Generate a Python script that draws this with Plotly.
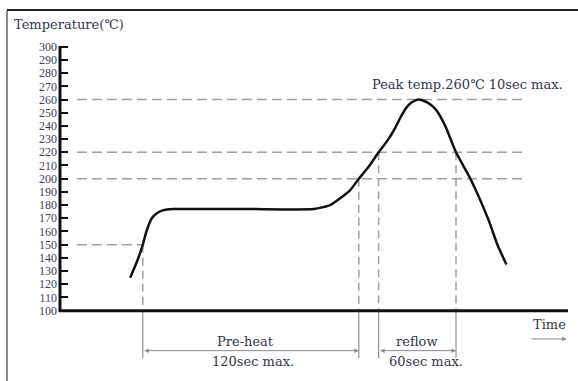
import plotly.graph_objects as go

# ---- data (time in sec, temperature in degC) ----
profile_time = [39, 43, 46, 48, 51, 54, 57, 63, 78, 106, 141, 150, 161, 166, 172, 177, 182, 186, 189, 192, 195, 199, 203, 206, 209, 214, 220, 228, 238, 243, 248]
profile_temp = [125, 138, 150, 160, 170, 174, 176, 177, 177, 177, 177, 180, 191, 200, 210, 220, 229, 238, 246, 253, 257.5, 260, 258.5, 256, 252, 240, 220, 200, 169, 150, 135]

y_ticks = list(range(100, 301, 10))
guide_temps = [150, 200, 220, 260]          # horizontal dashed guide levels
guide_end = [46, 257, 257, 257]             # where each guide stops (time)
marker_times = [46, 166, 177, 220]           # vertical dimension lines
marker_temps = [150, 200, 220, 220]          # where each vertical line meets the curve
preheat = (46, 166)
reflow = (177, 220)

X_RANGE = [-33.33, 287.78]
Y_RANGE = [46.7, 335.4]
W, H = 578, 381

TXT = "#33364a"
GUIDE = "#a0a0a0"
SERIF = "DejaVu Serif"

fig = go.Figure()

fig.add_trace(go.Scatter(
    x=profile_time, y=profile_temp, mode="lines",
    line=dict(color="#111111", width=2.5, shape="spline", smoothing=0.5),
    hoverinfo="skip", showlegend=False))

shapes = []
# horizontal guides
for t, te in zip(guide_temps, guide_end):
    shapes.append(dict(type="line", xref="x", yref="y", x0=9.4, x1=te, y0=t, y1=t,
                       line=dict(color=GUIDE, width=1.5, dash="10px,5px"), layer="below"))
# vertical guides (dashed above axis, solid below)
for tm, tp in zip(marker_times, marker_temps):
    shapes.append(dict(type="line", xref="x", yref="y", x0=tm, x1=tm, y0=tp, y1=100,
                       line=dict(color=GUIDE, width=1.5, dash="8px,5px"), layer="below"))
    shapes.append(dict(type="line", xref="x", yref="y", x0=tm, x1=tm, y0=100, y1=64.2,
                       line=dict(color="#909090", width=1.2), layer="below"))
# axes lines
shapes.append(dict(type="line", xref="x", yref="y", x0=0, x1=0, y0=100, y1=300.5,
                   line=dict(color="#111111", width=3)))
shapes.append(dict(type="line", xref="x", yref="y", x0=-0.8, x1=282.2, y0=100, y1=100,
                   line=dict(color="#111111", width=3)))
# frame
shapes.append(dict(type="line", xref="paper", yref="paper", x0=7 / W, x1=7 / W, y0=0, y1=1 - 10 / H,
                   line=dict(color="#666666", width=1.5)))
shapes.append(dict(type="line", xref="paper", yref="paper", x0=7 / W, x1=1, y0=1 - 10 / H, y1=1 - 10 / H,
                   line=dict(color="#222222", width=2)))

ann = []
def text(x, y, s, size=13, xanchor="center", xref="x", yref="y"):
    ann.append(dict(x=x, y=y, xref=xref, yref=yref, text=s, showarrow=False,
                    xanchor=xanchor, yanchor="middle",
                    font=dict(family=SERIF, size=size, color=TXT)))

text(12 / W, 1 - 24 / H, "Temperature(℃)", 13, "left", "paper", "paper")
text(226.4, 271.7, "Peak temp.260℃ 10sec max.", 13)
text(103.3, 76.5, "Pre-heat", 13)
text(107.5, 61.4, "120sec max.", 13)
text(198.3, 77.0, "reflow", 13)
text(203.1, 61.4, "60sec max.", 13)
text(272.2, 89.2, "Time", 13)

def arrow(x0, x1, y, both=True):
    ann.append(dict(x=x1, y=y, ax=x0, ay=y, xref="x", yref="y", axref="x", ayref="y",
                    text="", showarrow=True, arrowhead=2, arrowsize=0.9, arrowwidth=1,
                    arrowside="end+start" if both else "end",
                    arrowcolor="#8a8a8a", standoff=0, startstandoff=0))

arrow(preheat[0], preheat[1], 69.7)
arrow(reflow[0], reflow[1], 69.7)
arrow(261.1, 281.5, 78.6, both=False)

fig.update_layout(
    width=W, height=H, margin=dict(l=0, r=0, t=0, b=0),
    paper_bgcolor="white", plot_bgcolor="white",
    xaxis=dict(range=X_RANGE, visible=False, fixedrange=True),
    yaxis=dict(range=Y_RANGE, anchor="free", position=60 / W,
               showline=False, showgrid=False, zeroline=False, fixedrange=True,
               ticks="inside", ticklen=7, tickwidth=1.5, tickcolor="#111111",
               tickvals=y_ticks, ticktext=[str(v) for v in y_ticks],
               ticklabelstandoff=3,
               tickfont=dict(family="Liberation Serif", size=12, color="#3e4258")),
    shapes=shapes, annotations=ann, showlegend=False)

fig.write_html("out.html", config={"displayModeBar": False},
               post_script="document.body.style.margin='0';document.body.style.overflow='hidden';")
